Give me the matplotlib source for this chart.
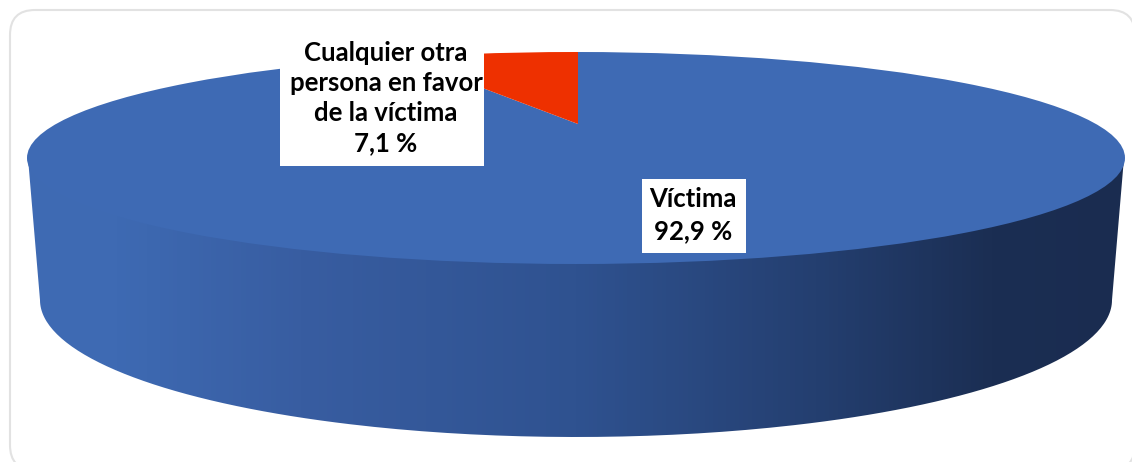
import numpy as np
import matplotlib.pyplot as plt
from matplotlib.colors import LinearSegmentedColormap
from matplotlib.patches import Ellipse, FancyBboxPatch, PathPatch
from matplotlib.path import Path

categories = ["Víctima", "Cualquier otra\npersona en favor\nde la víctima"]
values = [92.9, 7.1]
colors = ["#3E6AB4", "#EE3000"]

W, H = 1132, 462

# forma del disco en pixeles
TOP_C = (576, 158)
TOP_A, TOP_B = 549, 106
BOT_C = (576, 300)
BOT_A, BOT_B = 536, 137
TIP = (578, 124)
PIE_B = 99

fig = plt.figure(figsize=(W / 100, H / 100), dpi=100)
ax = fig.add_axes([0, 0, 1, 1], zorder=0)
ax.set_xlim(0, W)
ax.set_ylim(H, 0)
ax.axis("off")

# marco redondeado
card = FancyBboxPatch((35, 35), 1075, 410, boxstyle="round,pad=25,rounding_size=25",
                      facecolor="white", edgecolor="#E2E2E2", linewidth=1.5, clip_on=False)
ax.add_patch(card)

# pared lateral con degradado, metida un poco bajo la cara superior para que no quede linea clara
t = np.linspace(0, np.pi, 200)
top_x = TOP_C[0] - (TOP_A - 1) * np.cos(t)
top_y = TOP_C[1] + (TOP_B - 4) * np.sin(t)
bot_x = BOT_C[0] + BOT_A * np.cos(t)
bot_y = BOT_C[1] + BOT_B * np.sin(t)
wall_pts = np.column_stack([np.r_[top_x, bot_x], np.r_[top_y, bot_y]])
wall = PathPatch(Path(np.vstack([wall_pts, wall_pts[0]])), facecolor="none", edgecolor="none")
ax.add_patch(wall)

cmap = LinearSegmentedColormap.from_list("pared", [
    (0.0, "#3E6AB4"), (0.08, "#3E6AB3"), (0.25, "#385DA1"), (0.5, "#2F5290"),
    (0.72, "#243F70"), (0.88, "#1B2E53"), (1.0, "#1A2C50")])
grad = np.linspace(0, 1, 256).reshape(1, -1)
im = ax.imshow(grad, cmap=cmap, aspect="auto", zorder=2,
               extent=(TOP_C[0] - TOP_A, TOP_C[0] + TOP_A, 445, 100))
im.set_clip_path(wall)
ax.set_xlim(0, W)
ax.set_ylim(H, 0)

# cara superior: el vertice de la tarta no esta en el centro por la perspectiva
ax_pie = fig.add_axes([0, 0, 1, 1], zorder=1)
ax_pie.patch.set_alpha(0)
wedges, _ = ax_pie.pie(values, colors=colors, startangle=90 + values[1] * 3.6, radius=3,
                       wedgeprops={"linewidth": 0})
ax_pie.set_aspect("auto")
ax_pie.set_xlim(-TIP[0] / TOP_A, (W - TIP[0]) / TOP_A)
ax_pie.set_ylim((TIP[1] - H) / PIE_B, TIP[1] / PIE_B)

rim = Ellipse(((TOP_C[0] - TIP[0]) / TOP_A, (TIP[1] - TOP_C[1]) / PIE_B),
              2, 2 * TOP_B / PIE_B, facecolor="none", edgecolor="none")
ax_pie.add_patch(rim)
for w in wedges:
    w.set_clip_on(True)  # pie lo desactiva
    w.set_clip_path(rim)

# etiquetas
font = dict(family="Lato", fontweight="bold", fontsize=18.5, color="black",
            ha="center", va="center", transform=ax.transData, zorder=5)

ax_pie.add_patch(plt.Rectangle((280, 34), 204, 132, facecolor="white", edgecolor="none",
                               transform=ax.transData, zorder=4))
ax_pie.text(386, 98, f"{categories[1]}\n{values[1]:.1f} %".replace(".", ","), linespacing=1.3, **font)

ax_pie.add_patch(plt.Rectangle((642, 179), 104, 74, facecolor="white", edgecolor="none",
                               transform=ax.transData, zorder=4))
ax_pie.text(693, 215, f"{categories[0]}\n{values[0]:.1f} %".replace(".", ","), linespacing=1.42, **font)

fig.savefig("out.png", dpi=100)
